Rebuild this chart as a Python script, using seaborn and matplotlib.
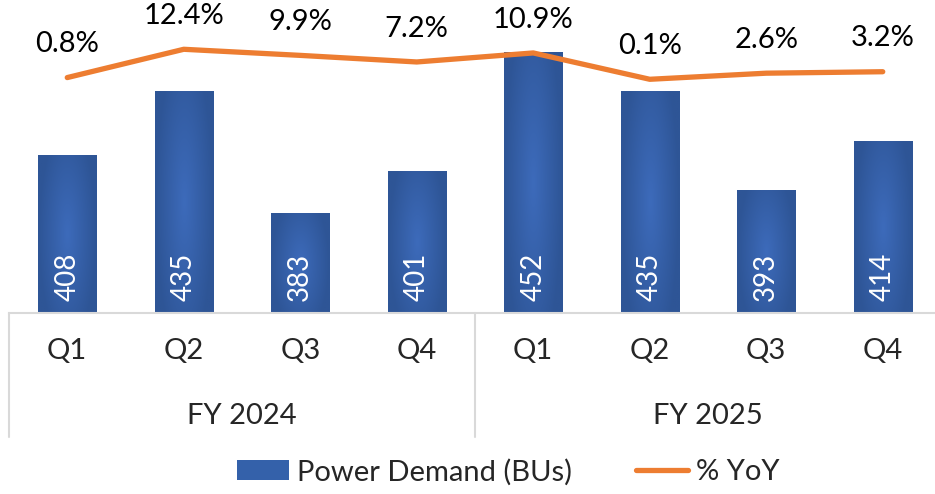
import numpy as np
import pandas as pd
import matplotlib
matplotlib.use("Agg")
import matplotlib.pyplot as plt
import matplotlib.transforms as mtransforms
from matplotlib.patches import Patch
from matplotlib.lines import Line2D
import seaborn as sns

# data
years = ["FY 2024", "FY 2025"]
quarters = ["Q1", "Q2", "Q3", "Q4"]
demand = [408, 435, 383, 401, 452, 435, 393, 414]
yoy = [0.8, 12.4, 9.9, 7.2, 10.9, 0.1, 2.6, 3.2]

periods = [f"{y} {q}" for y in years for q in quarters]
df = pd.DataFrame({"period": periods, "demand": demand, "yoy": yoy})

sns.set_theme(style="white")
plt.rcParams["font.family"] = ["Lato", "DejaVu Sans"]

W, H = 935, 494
fig = plt.figure(figsize=(W / 100, H / 100), dpi=100)
# plot area: x 9..941 px, y 0..313 px
ax = fig.add_axes([9 / W, (H - 313) / H, 932 / W, 313 / H])

BLUE_EDGE = np.array([0x2E, 0x55, 0x96]) / 255
BLUE_MID = np.array([0x3D, 0x6B, 0xBB]) / 255
ORANGE = "#ED7D31"
GRID = "#D9D9D9"

sns.barplot(data=df, x="period", y="demand", order=periods, color=BLUE_EDGE,
            width=0.5, ax=ax, saturation=1)

ymin, ymax = 340.8, 474.2

# soft radial shading inside each bar, like the office gradient fill
u = np.linspace(-1, 1, 40)[None, :]
v = np.linspace(-1, 1, 120)[:, None]
r = np.clip(np.sqrt(u ** 2 + (v * 0.7) ** 2), 0, 1)[..., None]
grad = BLUE_MID * (1 - r) + BLUE_EDGE * r
for p in ax.patches:
    bb = p.get_bbox()
    ax.imshow(grad, extent=[bb.x0, bb.x1, max(bb.y0, ymin), bb.y1],
              aspect="auto", zorder=p.get_zorder() + 0.1,
              interpolation="bilinear")

ax.set_xlim(-0.5, len(periods) - 0.5)
ax.set_ylim(ymin, ymax)

# values written upward in the bars
for p, val in zip(ax.patches, demand):
    ax.annotate(str(val), xy=(p.get_x() + p.get_width() / 2, ymin),
                xytext=(0, 9), textcoords="offset points", rotation=90,
                ha="center", va="bottom", color="white", fontsize=20, zorder=5)

# % YoY on a second scale
ax2 = ax.twinx()
sns.lineplot(x=np.arange(len(periods)), y=yoy, ax=ax2, color=ORANGE,
             linewidth=3.8, solid_capstyle="round")
ax2.set_ylim(-95.7, 32.6)
ax2.set_xlim(-0.5, len(periods) - 0.5)
for i, val in enumerate(yoy):
    ax2.annotate(f"{val:.1f}%", xy=(i, val), xytext=(0, 24),
                 textcoords="offset points", ha="center", va="center",
                 fontsize=21, color="black")

for a in (ax, ax2):
    a.set_xlabel("")
    a.set_ylabel("")
    a.set_yticks([])
    for s in ("top", "left", "right"):
        a.spines[s].set_visible(False)
ax2.spines["bottom"].set_visible(False)
ax.spines["bottom"].set_color(GRID)
ax.spines["bottom"].set_linewidth(1.5)

ax.set_xticks(range(len(periods)))
ax.set_xticklabels(quarters * len(years), fontsize=21)
ax.tick_params(axis="x", length=0, pad=18)

# group labels and separators
trans = mtransforms.blended_transform_factory(ax.transData, ax.transAxes)
for k, y in enumerate(years):
    ax.text(k * 4 + 1.5, -0.33, y, transform=trans, ha="center", va="center",
            fontsize=21)
for xs in [-0.5, 3.5, 7.5]:
    ax.plot([xs, xs], [0, -0.396], transform=trans, color=GRID, lw=1.5,
            clip_on=False)

handles = [Patch(facecolor="#3461AA", edgecolor="none"),
           Line2D([0], [0], color=ORANGE, lw=3.8)]
fig.legend(handles, ["Power Demand (BUs)", "% YoY"], loc="center",
           bbox_to_anchor=(508 / W, 22 / H), ncol=2, frameon=False,
           fontsize=21, handlelength=1.8, handletextpad=0.25,
           columnspacing=2.2)

fig.savefig("out.png", dpi=100)
